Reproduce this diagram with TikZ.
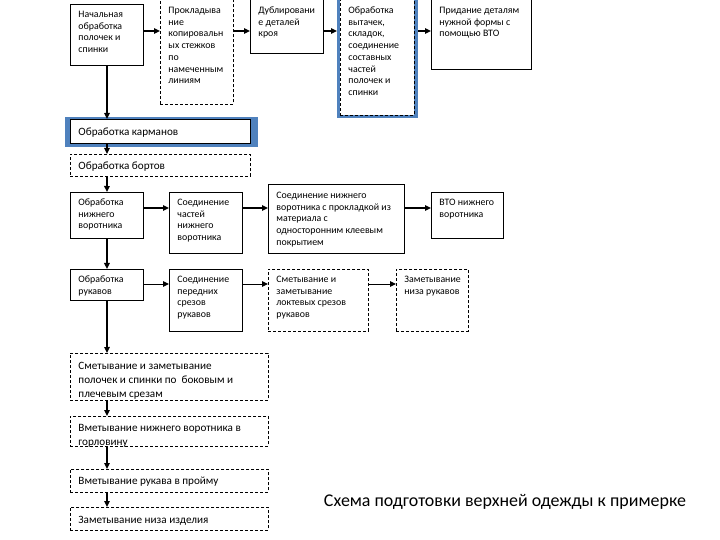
\documentclass[tikz,border=0pt]{standalone}
\usepackage{fontspec}
\setmainfont{Carlito}
\usetikzlibrary{arrows.meta}
\definecolor{frameblue}{RGB}{79,129,189}
\tikzset{
  solidbox/.style={draw=black, line width=0.9bp, fill=white},
  dashbox/.style={draw=black, line width=0.9bp, fill=white, dash pattern=on 3bp off 2bp},
  arr/.style={line width=1.8bp, -{Triangle[length=6bp,width=5.5bp]}},
  thinarr/.style={line width=1bp, -{Triangle[length=6bp,width=5.5bp]}},
  blueframe/.style={fill=frameblue, draw=none, inner sep=0pt, anchor=north west},
}
% #1 name, #2 style, #3 x, #4 y top, #5 w, #6 h, #7 font, #8 baseline, #9 text
\newcommand\bx[9]{%
  \node[#2, inner sep=0pt, anchor=north west] (#1) at (#3,#4)
  {\begin{minipage}[t][#6bp][t]{#5bp}#7\raggedright\leftskip=8bp\rule{0pt}{#8bp}#9\end{minipage}};}
\newcommand\smallf{\fontsize{9.9}{11.8}\selectfont}
\newcommand\bigf{\fontsize{11.2}{14.3}\selectfont}
\begin{document}
\begin{tikzpicture}[x=1bp,y=-1bp]
\useasboundingbox (0,0) rectangle (720,540);
\coordinate (row1) at (0,31);
\coordinate (row3) at (0,208);
\coordinate (row4) at (0,284);
\coordinate (col) at (107,0);
% blue frames
\node[blueframe, minimum width=81bp, minimum height=121bp] (blue4) at (337,-3) {};
\node[blueframe, minimum width=193bp, minimum height=30bp] (bluek) at (65,117) {};
% top row
\bx{b1}{solidbox}{70}{4}{73}{61}{\smallf}{13}{Начальная\\обработка\\полочек и\\спинки}
\bx{b2}{dashbox}{160}{-2}{73}{106}{\smallf}{15}{Прокладыва\\ние\\копировальн\\ых стежков\\по\\намеченным\\линиям}
\bx{b3}{solidbox}{250}{-2}{73}{55}{\smallf}{15}{Дублировани\\е деталей\\кроя}
\bx{b4}{dashbox}{340}{-2}{74}{117}{\smallf}{15}{Обработка\\вытачек,\\складок,\\соединение\\составных\\частей\\полочек и\\спинки}
\bx{b5}{solidbox}{431}{-2}{100}{71}{\smallf}{15}{Придание деталям\\нужной формы с\\помощью ВТО}
% second level
\bx{karm}{solidbox}{70}{119}{180}{24}{\bigf}{16}{Обработка карманов}
\bx{bort}{dashbox}{70}{154}{180}{22}{\bigf}{15}{Обработка бортов}
% row 3
\bx{c1}{solidbox}{70}{192}{73}{46}{\smallf}{13}{Обработка\\нижнего\\воротника}
\bx{c2}{solidbox}{169}{192}{73}{61}{\smallf}{13}{Соединение\\частей\\нижнего\\воротника}
\bx{c3}{solidbox}{268}{184}{136}{69}{\smallf}{14}{Соединение нижнего\\воротника с прокладкой из\\материала с\\односторонним клеевым\\покрытием}
\bx{c4}{solidbox}{431}{192}{72}{46}{\smallf}{13}{ВТО нижнего\\воротника}
% row 4
\bx{d1}{solidbox}{70}{269}{73}{31}{\smallf}{13}{Обработка\\рукавов}
\bx{d2}{solidbox}{169}{269}{73}{62}{\smallf}{13}{Соединение\\передних\\срезов\\рукавов}
\bx{d3}{dashbox}{268}{269}{100}{62}{\smallf}{13}{Сметывание и\\заметывание\\локтевых срезов\\рукавов}
\bx{d4}{dashbox}{396}{269}{72}{62}{\smallf}{13}{Заметывание\\низа рукавов}
% bottom column
\bx{e1}{dashbox}{70}{353}{198}{47}{\bigf}{16}{Сметывание и заметывание\\полочек и спинки по\ \ боковым и\\плечевым срезам}
\bx{e2}{dashbox}{70}{416}{198}{30}{\bigf}{15}{Вметывание нижнего воротника в\\горловину}
\bx{e3}{dashbox}{70}{469}{198}{23}{\bigf}{15}{Вметывание рукава в пройму}
\bx{e4}{dashbox}{70}{507}{198}{23}{\bigf}{16}{Заметывание низа изделия}
% caption
\node[font=\fontsize{18}{21}\selectfont, anchor=center] (cap) at (505,502) {Схема подготовки верхней одежды к примерке};
% arrows top row
\draw[arr] (b1.east|-row1) -- (b2.west|-row1);
\draw[arr] (b2.east|-row1) -- (b3.west|-row1);
\draw[arr] (b3.east|-row1) -- (blue4.west|-row1);
\draw[arr] (blue4.east|-row1) -- (b5.west|-row1);
% vertical
\draw[arr] (b1.south) -- (karm.north-|col);
\draw[arr] (karm.south-|col) -- (bort.north-|col);
\draw[arr] (bort.south-|col) -- (c1.north);
\draw[arr] (c1.south) -- (d1.north);
\draw[arr] (d1.south) -- (e1.north-|col);
\draw[arr] (e1.south-|col) -- (e2.north-|col);
\draw[arr] (e2.south-|col) -- (e3.north-|col);
\draw[arr] (e3.south-|col) -- (e4.north-|col);
% row 3
\draw[arr] (c1.east|-row3) -- (c2.west|-row3);
\draw[arr] (c2.east|-row3) -- (c3.west|-row3);
\draw[arr] (c3.east|-row3) -- (c4.west|-row3);
% row 4
\draw[thinarr] (d1.east|-row4) -- (d2.west|-row4);
\draw[thinarr] (d2.east|-row4) -- (d3.west|-row4);
\draw[thinarr] (d3.east|-row4) -- (d4.west|-row4);
\end{tikzpicture}
\end{document}
